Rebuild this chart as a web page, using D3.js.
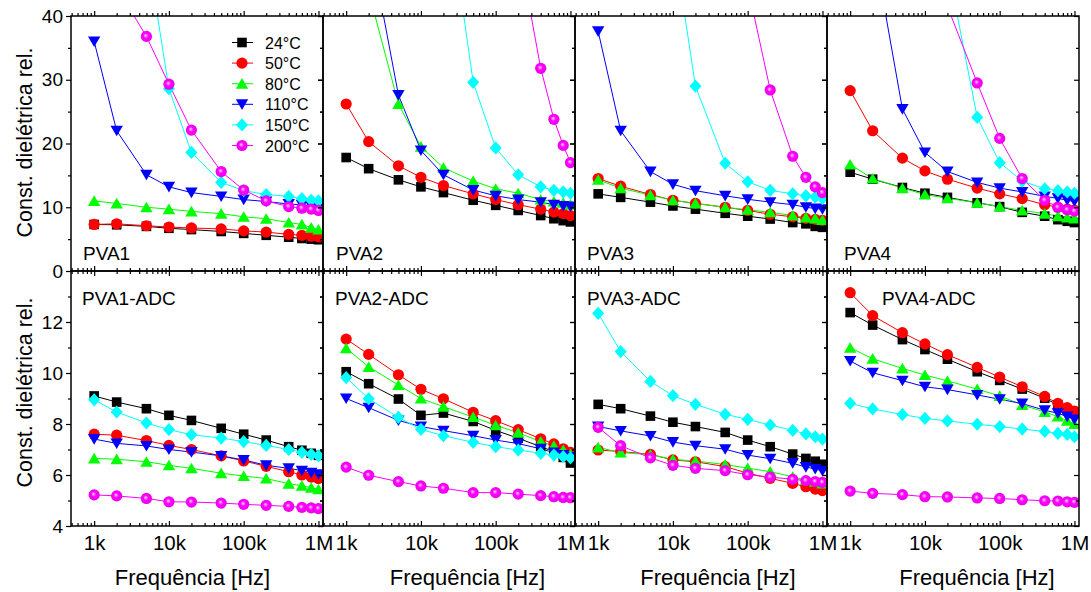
<!DOCTYPE html>
<html>
<head>
<meta charset="utf-8">
<script src="https://cdn.jsdelivr.net/npm/d3@7"></script>
<style>
  html, body { margin: 0; padding: 0; background: #fff; }
  svg { display: block; font-family: Arial, "Liberation Sans", sans-serif; }
</style>
</head>
<body>
<svg id="chart" width="1091" height="592"></svg>
<script>
// ---------------- DATA ----------------
const freqs = [1e3, 2e3, 5e3, 1e4, 2e4, 5e4, 1e5, 2e5, 4e5, 6e5, 8e5, 1e6];
const temps = ["24°C", "50°C", "80°C", "110°C", "150°C", "200°C"];
const xTickValues = [1e3, 1e4, 1e5, 1e6];
const xTickLabels = ["1k", "10k", "100k", "1M"];
const yTicksTop = [0, 10, 20, 30, 40];
const yTicksBottom = [4, 6, 8, 10, 12];
const panelNamesTop = ["PVA1", "PVA2", "PVA3", "PVA4"];
const panelNamesBot = ["PVA1-ADC", "PVA2-ADC", "PVA3-ADC", "PVA4-ADC"];

// series order: 24, 50, 80, 110, 150, 200 °C (null = off the scale, not drawn)
const pva1 = [
  [7.3, 7.25, 7.0, 6.7, 6.5, 6.2, 5.9, 5.6, 5.3, 5.1, 5.0, 4.9],
  [7.3, 7.4, 7.1, 6.9, 6.75, 6.6, 6.3, 6.1, 5.75, 5.6, 5.45, 5.35],
  [11.0, 10.6, 10.0, 9.7, 9.35, 9.0, 8.5, 8.2, 7.6, 7.3, 6.8, 6.5],
  [36.0, 22.0, 15.1, 13.2, 12.3, 11.7, 11.2, 10.9, 10.5, 10.4, 10.2, 10.1],
  [null, null, 51, 28.6, 18.6, 13.9, 12.6, 12.0, 11.7, 11.35, 11.1, 11.0],
  [null, 44.5, 36.8, 29.3, 22.1, 15.6, 12.7, 11.0, 10.1, 9.85, 9.7, 9.5]
];
const pva2 = [
  [17.8, 16.05, 14.3, 13.2, 12.3, 11.1, 10.3, 9.5, 8.7, 8.2, 7.9, 7.7],
  [26.2, 20.3, 16.5, 14.7, 13.4, 12.1, 11.2, 10.4, 9.7, 9.25, 9.0, 8.7],
  [null, 43.8, 26.2, 19.5, 16.2, 14.1, 12.9, 12.2, 11.2, 10.9, 10.7, 10.4],
  [null, 52.4, 27.6, 18.9, 15.1, 12.7, 11.8, 11.2, 10.8, 10.4, 10.2, 10.1],
  [null, null, null, null, 62.5, 29.6, 19.3, 15.1, 13.2, 12.65, 12.4, 12.2],
  [null, null, null, null, null, null, null, 51.1, 31.8, 23.8, 19.7, 17.0]
];
const pva3 = [
  [12.1, 11.55, 10.8, 10.2, 9.7, 9.05, 8.6, 8.15, 7.6, 7.4, 7.0, 6.85],
  [14.5, 13.3, 12.0, 11.1, 10.6, 10.0, 9.5, 8.9, 8.5, 8.25, 8.1, 7.95],
  [14.3, 13.0, 11.9, 11.1, 10.6, 10.0, 9.6, 9.2, 8.7, 8.4, 8.25, 8.0],
  [37.6, 22.0, 15.6, 13.6, 12.6, 11.8, 11.25, 10.8, 10.4, 10.0, 9.8, 9.7],
  [null, null, null, 52.4, 29.0, 16.9, 14.0, 12.65, 12.1, 11.8, 11.6, 11.4],
  [null, null, null, null, null, null, 44.7, 28.4, 18.0, 14.7, 13.2, 12.3]
];
const pva4 = [
  [15.5, 14.4, 13.1, 12.2, 11.55, 10.7, 10.1, 9.2, 8.6, 8.05, 7.8, 7.6],
  [28.3, 22.0, 17.7, 15.7, 14.4, 13.0, 12.1, 11.35, 10.4, 10.0, 9.7, 9.55],
  [16.7, 14.5, 13.0, 12.0, 11.4, 10.7, 10.1, 9.5, 9.0, 8.6, 8.4, 8.25],
  [null, 51.7, 25.4, 18.6, 15.6, 13.9, 13.0, 12.4, 11.7, 11.4, 11.1, 10.9],
  [null, null, null, null, 48, 24.1, 17.0, 14.1, 12.9, 12.6, 12.4, 12.2],
  [null, null, null, null, 41.5, 29.5, 20.8, 14.5, 11.1, 10.0, 9.6, 9.4]
];
const pva1adc = [
  [9.1, 8.86, 8.6, 8.34, 8.14, 7.83, 7.6, 7.37, 7.11, 6.97, 6.85, 6.77],
  [7.6, 7.56, 7.35, 7.16, 7.0, 6.75, 6.55, 6.34, 6.13, 6.0, 5.92, 5.86],
  [6.65, 6.62, 6.52, 6.38, 6.26, 6.07, 5.96, 5.86, 5.66, 5.58, 5.5, 5.44],
  [7.41, 7.24, 7.14, 7.0, 6.9, 6.75, 6.59, 6.38, 6.26, 6.17, 6.09, 6.03],
  [8.95, 8.47, 8.04, 7.78, 7.58, 7.45, 7.31, 7.16, 7.0, 6.89, 6.81, 6.75],
  [5.22, 5.18, 5.08, 4.95, 4.94, 4.9, 4.85, 4.81, 4.77, 4.73, 4.71, 4.68]
];
const pva2adc = [
  [10.05, 9.58, 8.98, 8.34, 8.43, 8.1, 7.75, 7.44, 7.11, 6.92, 6.69, 6.47],
  [11.33, 10.73, 9.93, 9.36, 8.99, 8.46, 8.13, 7.78, 7.42, 7.22, 7.03, 6.89],
  [10.97, 10.24, 9.53, 9.0, 8.68, 8.27, 7.95, 7.66, 7.31, 7.14, 6.98, 6.82],
  [9.0, 8.64, 8.14, 7.9, 7.74, 7.54, 7.37, 7.23, 7.03, 6.88, 6.78, 6.71],
  [9.82, 8.99, 8.26, 7.79, 7.54, 7.28, 7.11, 6.98, 6.85, 6.78, 6.72, 6.67],
  [6.31, 5.99, 5.74, 5.57, 5.48, 5.31, 5.31, 5.25, 5.19, 5.15, 5.12, 5.11]
];
const pva3adc = [
  [8.77, 8.6, 8.31, 8.07, 7.9, 7.67, 7.37, 7.11, 6.82, 6.65, 6.54, 6.42],
  [6.98, 6.92, 6.81, 6.59, 6.52, 6.33, 6.07, 5.87, 5.67, 5.54, 5.45, 5.39],
  [7.08, 6.88, 6.8, 6.61, 6.55, 6.41, 6.27, 6.13, 5.93, 5.8, 5.74, 5.67],
  [7.9, 7.73, 7.53, 7.29, 7.15, 7.01, 6.78, 6.64, 6.46, 6.31, 6.24, 6.16],
  [12.34, 10.84, 9.67, 9.11, 8.77, 8.38, 8.18, 7.96, 7.75, 7.61, 7.5, 7.41],
  [7.87, 7.15, 6.67, 6.38, 6.26, 6.17, 6.01, 5.92, 5.83, 5.78, 5.74, 5.71]
];
const pva4adc = [
  [12.37, 11.88, 11.31, 10.92, 10.54, 10.05, 9.71, 9.37, 9.01, 8.75, 8.56, 8.42],
  [13.15, 12.25, 11.58, 11.14, 10.72, 10.22, 9.84, 9.46, 9.08, 8.81, 8.64, 8.51],
  [10.99, 10.56, 10.18, 9.92, 9.69, 9.37, 9.1, 8.75, 8.47, 8.29, 8.13, 8.0],
  [10.47, 10.01, 9.7, 9.46, 9.35, 9.14, 8.97, 8.8, 8.54, 8.42, 8.29, 8.18],
  [8.81, 8.59, 8.37, 8.22, 8.12, 7.99, 7.9, 7.8, 7.71, 7.63, 7.59, 7.5],
  [5.37, 5.28, 5.23, 5.15, 5.14, 5.1, 5.08, 5.03, 4.99, 4.98, 4.95, 4.93]
];

// ---------------- STYLE / LAYOUT ----------------
const colors = ["#000000", "#ff0000", "#00ff00", "#0000ff", "#00ffff", "#ff00ff"];
const shapes = ["square", "circle", "triangle", "triangleDown", "diamond", "sphere"];
const FONT = 'Arial, "Liberation Sans", sans-serif';

const mLeft = 71, mTop = 16, PW = 252, PH = 255;
const svg = d3.select("#chart");

const defs = svg.append("defs");
const grad = defs.append("radialGradient").attr("id", "sphereGrad")
  .attr("cx", "50%").attr("cy", "50%").attr("r", "50%").attr("fx", "42%").attr("fy", "40%");
grad.append("stop").attr("offset", "0%").attr("stop-color", "#ffd8ff");
grad.append("stop").attr("offset", "22%").attr("stop-color", "#ff70ff");
grad.append("stop").attr("offset", "45%").attr("stop-color", "#ff00ff");
grad.append("stop").attr("offset", "100%").attr("stop-color", "#e800e8");

function markerPath(shape) {
  switch (shape) {
    case "square": return "M-4.8,-4.8H4.8V4.8H-4.8Z";
    case "triangle": return "M0,-5.6L6.2,5.0L-6.2,5.0Z";
    case "triangleDown": return "M0,5.6L6.2,-5.0L-6.2,-5.0Z";
    case "diamond": return "M0,-6.6L6.0,0L0,6.6L-6.0,0Z";
    default: return null;
  }
}
function drawMarker(sel, shape, color) {
  if (shape === "circle") {
    sel.append("circle").attr("r", 5.6).attr("fill", color);
  } else if (shape === "sphere") {
    sel.append("circle").attr("r", 5.6).attr("fill", "url(#sphereGrad)");
  } else {
    sel.append("path").attr("d", markerPath(shape)).attr("fill", color);
  }
}

const x = d3.scaleLog().domain([490, 1.15e6]).range([0, PW]);
const yTop = d3.scaleLinear().domain([0, 40]).range([PH, 0]);
const yBot = d3.scaleLinear().domain([4, 14]).range([PH, 0]);

const minorX = [];
[100, 1e3, 1e4, 1e5].forEach(d => { for (let k = 2; k <= 9; k++) { const v = d * k; if (v >= 490 && v <= 1.15e6 && !xTickValues.includes(v)) minorX.push(v); } });

const panelsTop = [pva1, pva2, pva3, pva4];
const panelsBot = [pva1adc, pva2adc, pva3adc, pva4adc];
const labelOffTop = [12, 13, 12, 17];
const labelOffBot = [11, 12, 12, 55];
const titleCenters = [192.5, 467.5, 718, 977];

function drawPanel(row, col, data, name) {
  const y = row === 0 ? yTop : yBot;
  const majorY = row === 0 ? yTicksTop : yTicksBottom;
  const minorY = row === 0 ? [5, 15, 25, 35] : [5, 7, 9, 11, 13];
  const gx = mLeft + col * PW, gy = mTop + row * PH;
  const g = svg.append("g").attr("transform", `translate(${gx},${gy})`);
  const cid = `clip${row}${col}`;
  defs.append("clipPath").attr("id", cid).append("rect")
    .attr("x", 0).attr("y", 0).attr("width", PW).attr("height", PH);

  const plot = g.append("g").attr("clip-path", `url(#${cid})`);
  const line = d3.line().defined(d => d.v !== null).x(d => x(d.f)).y(d => y(d.v));
  data.forEach((series, si) => {
    const pts = freqs.map((f, i) => ({ f, v: series[i] }));
    plot.append("path").datum(pts).attr("d", line)
      .attr("fill", "none").attr("stroke", colors[si]).attr("stroke-width", 1);
  });
  data.forEach((series, si) => {
    freqs.forEach((f, i) => {
      const v = series[i];
      if (v === null) return;
      const m = plot.append("g").attr("transform", `translate(${x(f)},${y(v)})`);
      drawMarker(m, shapes[si], colors[si]);
    });
  });

  const axStyle = a => {
    a.select(".domain").remove();
    a.selectAll("line").attr("stroke", "#000").attr("stroke-width", 1.2);
    a.selectAll("text").attr("font-family", FONT).attr("fill", "#000");
  };
  // left (outward)
  g.append("g").call(d3.axisLeft(y).tickValues(majorY).tickSize(5).tickPadding(3)
      .tickFormat(col === 0 ? d3.format("d") : () => ""))
    .call(axStyle).selectAll("text").attr("font-size", 19);
  g.append("g").call(d3.axisLeft(y).tickValues(minorY).tickSize(3).tickFormat(() => "")).call(axStyle);
  // right (inward)
  g.append("g").attr("transform", `translate(${PW},0)`)
    .call(d3.axisRight(y).tickValues(majorY).tickSize(-5).tickFormat(() => "")).call(axStyle);
  g.append("g").attr("transform", `translate(${PW},0)`)
    .call(d3.axisRight(y).tickValues(minorY).tickSize(-3).tickFormat(() => "")).call(axStyle);
  // bottom (inward)
  g.append("g").attr("transform", `translate(0,${PH})`)
    .call(d3.axisBottom(x).tickValues(xTickValues).tickSize(-5).tickPadding(9)
      .tickFormat((d, i) => row === 1 ? xTickLabels[i] : ""))
    .call(axStyle).selectAll("text").attr("font-size", 20.5);
  g.append("g").attr("transform", `translate(0,${PH})`)
    .call(d3.axisBottom(x).tickValues(minorX).tickSize(-3).tickFormat(() => "")).call(axStyle);
  // top
  const topSize = row === 0 ? 5 : -5, topMinor = row === 0 ? 3 : -3;
  g.append("g").call(d3.axisTop(x).tickValues(xTickValues).tickSize(topSize).tickFormat(() => "")).call(axStyle);
  g.append("g").call(d3.axisTop(x).tickValues(minorX).tickSize(topMinor).tickFormat(() => "")).call(axStyle);

  // frame
  g.append("rect").attr("x", 0).attr("y", 0).attr("width", PW).attr("height", PH)
    .attr("fill", "none").attr("stroke", "#000").attr("stroke-width", 1.5);

  // panel label
  const lx = row === 0 ? labelOffTop[col] : labelOffBot[col];
  const ly = row === 0 ? 244 : 34;
  g.append("text").attr("x", lx).attr("y", ly).attr("font-family", FONT)
    .attr("font-size", 19).attr("fill", "#000").text(name);
}

panelsTop.forEach((d, c) => drawPanel(0, c, d, panelNamesTop[c]));
panelsBot.forEach((d, c) => drawPanel(1, c, d, panelNamesBot[c]));

// y titles
[mTop + PH / 2 - 1, mTop + PH + PH / 2 - 6].forEach(cy => {
  svg.append("text").attr("transform", `translate(32,${cy}) rotate(-90)`)
    .attr("text-anchor", "middle").attr("font-family", FONT).attr("font-size", 21.5)
    .attr("fill", "#000").text("Const. dielétrica rel.");
});
// x titles
titleCenters.forEach(cx => {
  svg.append("text").attr("x", cx).attr("y", 584.5).attr("text-anchor", "middle")
    .attr("font-family", FONT).attr("font-size", 22).attr("fill", "#000").text("Frequência [Hz]");
});

// legend (in first panel)
const leg = svg.append("g").attr("transform", `translate(${mLeft},${mTop})`);
temps.forEach((t, i) => {
  const ly = 26.5 + i * 20.6;
  const r = leg.append("g").attr("transform", `translate(171,${ly})`);
  r.append("line").attr("x1", -10).attr("x2", 11).attr("y1", 0).attr("y2", 0)
    .attr("stroke", colors[i]).attr("stroke-width", 1);
  drawMarker(r, shapes[i], colors[i]);
  leg.append("text").attr("x", 194).attr("y", ly + 6).attr("font-family", FONT)
    .attr("font-size", 16).attr("fill", "#000").text(t);
});
</script>
</body>
</html>
